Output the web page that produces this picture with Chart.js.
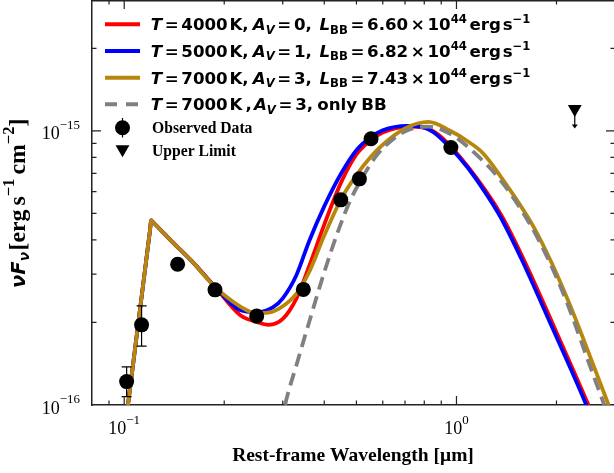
<!DOCTYPE html>
<html><head><meta charset="utf-8">
<script src="https://cdn.jsdelivr.net/npm/chart.js@4.4.0/dist/chart.umd.min.js"></script>
<style>html,body{margin:0;padding:0;background:#fff;overflow:hidden}#wrap{width:614px;height:473px;overflow:hidden;position:relative}canvas{display:block}</style>
</head><body><div id="wrap"><canvas id="c" width="615" height="473"></canvas></div>
<script>
// ---- data (wavelength in micron, nuF_nu in erg s^-1 cm^-2) ----
const redX  = [0.100,0.1195,0.1206,0.1215,0.140,0.160,0.188,0.2231,0.25,0.272,0.30,0.33,0.36,0.40,0.45,0.50,0.55,0.60,0.72,0.79,0.865,0.971,1.224,1.374,1.598,1.944,2.496,2.65];
const redY  = [7.8e-17,4.31e-16,4.71e-16,4.67e-16,3.92e-16,3.34e-16,2.69e-16,2.13e-16,2.01e-16,1.96e-16,2.06e-16,2.45e-16,3.2e-16,4.55e-16,6.5e-16,8.2e-16,9.2e-16,9.85e-16,1.037e-15,1.03e-15,9.85e-16,8.65e-16,6.05e-16,4.85e-16,3.37e-16,1.99e-16,1.0e-16,8.4e-17];
const blueX = [0.100,0.1195,0.1206,0.1215,0.140,0.160,0.188,0.2231,0.25,0.28,0.30,0.33,0.36,0.40,0.45,0.50,0.55,0.60,0.71,0.78,0.85,0.957,1.08,1.206,1.354,1.574,1.915,2.459,2.6];
const blueY = [7.8e-17,4.31e-16,4.71e-16,4.67e-16,3.92e-16,3.34e-16,2.69e-16,2.22e-16,2.18e-16,2.27e-16,2.45e-16,2.98e-16,3.95e-16,5.3e-16,7.0e-16,8.5e-16,9.45e-16,1.005e-15,1.043e-15,1.035e-15,9.9e-16,8.69e-16,7.35e-16,6.09e-16,4.87e-16,3.38e-16,1.99e-16,1.0e-16,8.4e-17];
const goldX = [0.100,0.1195,0.1206,0.1215,0.140,0.160,0.188,0.2231,0.25,0.28,0.30,0.33,0.36,0.40,0.45,0.50,0.55,0.60,0.70,0.824,0.957,1.075,1.2,1.354,1.70,1.938,2.20,2.5,2.87,3.05];
const goldY = [7.8e-17,4.31e-16,4.71e-16,4.67e-16,3.92e-16,3.34e-16,2.69e-16,2.29e-16,2.16e-16,2.19e-16,2.29e-16,2.55e-16,3.05e-16,4.15e-16,5.65e-16,6.9e-16,8.0e-16,8.9e-16,1.02e-15,1.078e-15,1.0e-15,9.2e-16,8.3e-16,6.85e-16,4.5e-16,3.28e-16,2.3e-16,1.55e-16,1.0e-16,8.2e-17];
const grayX = [0.29,0.305,0.33,0.36,0.40,0.44,0.48,0.53,0.576,0.65,0.72,0.82,0.95,1.075,1.354,1.667,1.893,2.14,2.5,2.786,3.0];
const grayY = [7.2e-17,1.0e-16,1.40e-16,2.0e-16,3.05e-16,4.3e-16,5.6e-16,7.0e-16,8.15e-16,9.4e-16,1.01e-15,1.036e-15,9.8e-16,8.8e-16,6.62e-16,4.55e-16,3.38e-16,2.4e-16,1.43e-16,1.0e-16,7.8e-17];

const obsX   = [0.1017,0.1128,0.1448,0.1876,0.2505,0.3461,0.4486,0.5104,0.5533,0.9619];
const obsY   = [1.217e-16,1.96e-16,3.26e-16,2.63e-16,2.11e-16,2.64e-16,5.60e-16,6.68e-16,9.35e-16,8.69e-16];
const obsLo  = [1.072e-16,1.64e-16,null,null,null,null,null,null,null,null];
const obsHi  = [1.377e-16,2.30e-16,null,null,null,null,null,null,null,null];
const ulX    = [2.27];
const ulY    = [1.2e-15];
const ulEnd  = [1.02e-15];

const legendT  = [4000,5000,7000,7000];
const legendAv = [0,1,3,3];
const legendL  = ['6.60','6.82','7.43',null];

const xMajor = [0.1,1];
const xMinor = [0.09,0.2,0.3,0.4,0.5,0.6,0.7,0.8,0.9,2];
const yMajor = [1e-16,1e-15];
const yMinor = [2e-16,3e-16,4e-16,5e-16,6e-16,7e-16,8e-16,9e-16,2e-15];
const xTickExp = ['\u22121','0'];
const yTickExp = ['\u221216','\u221215'];

const RED='#ff0000', BLUE='#0000ff', GOLD='#b8860b', GRAY='#808080';
const Sans="'DejaVu Sans'", Serif="'Liberation Serif'";

const pts = (xs,ys)=>xs.map((x,i)=>({x:x,y:ys[i]}));
function curve(xs,ys,color,order,dash){
  return {data:pts(xs,ys),showLine:true,borderColor:color,borderWidth:3.8,pointRadius:0,
    fill:false,cubicInterpolationMode:'monotone',borderDash:dash||[],order:order,clip:0};
}

function fontStr(s,size){return (s.it?'italic ':'')+(s.b?'bold ':'')+size.toFixed(2)+'px '+s.fam;}
function richWidth(ctx,segs,size){let w=0;for(const s of segs){w+=(s.g||0)*size;ctx.font=fontStr(s,size*(s.sc||1));w+=ctx.measureText(s.t).width;}return w;}
function drawRich(ctx,x,y,segs,size){let cx=x;for(const s of segs){cx+=(s.g||0)*size;ctx.font=fontStr(s,size*(s.sc||1));ctx.fillText(s.t,cx,y+(s.dy||0)*size);cx+=ctx.measureText(s.t).width;}return cx;}

function curveLabel(i){
  const b={b:1,fam:Sans}, bi={b:1,it:1,fam:Sans};
  const s=[{...bi,t:'T'},{...b,t:'=',g:.16},{...b,t:String(legendT[i]),g:.16}];
  if(legendL[i]){
    s.push({...b,t:'K,',g:.1},{...bi,t:'A',g:.25},{...bi,t:'V',sc:.7,dy:.2},{...b,t:'=',g:.16},{...b,t:legendAv[i]+',',g:.16},
      {...bi,t:'L',g:.45},{...b,t:'BB',sc:.7,dy:.2},{...b,t:'=',g:.16},{...b,t:legendL[i],g:.16},{...b,t:'\u00d7',g:.16},
      {...b,t:'10',g:.16},{...b,t:'44',sc:.7,dy:-.42},{...b,t:'erg',g:.16},{...b,t:'s',g:.1},{...b,t:'\u22121',sc:.7,dy:-.42});
  } else {
    s.push({...b,t:'K',g:.1},{...b,t:',',g:.2},{...bi,t:'A',g:.12},{...bi,t:'V',sc:.7,dy:.2},{...b,t:'=',g:.16},{...b,t:legendAv[i]+',',g:.16},
      {...b,t:'only',g:.25},{...b,t:'BB',g:.25});
  }
  return s;
}

const decor={
  id:'decor',
  afterDatasetsDraw(chart){
    const ctx=chart.ctx, xs=chart.scales.x, ys=chart.scales.y;
    ctx.save();ctx.strokeStyle='#000';ctx.fillStyle='#000';ctx.lineWidth=1.2;
    obsX.forEach((v,i)=>{
      if(obsLo[i]==null)return;
      const px=xs.getPixelForValue(v), p1=ys.getPixelForValue(obsLo[i]), p2=ys.getPixelForValue(obsHi[i]);
      ctx.beginPath();ctx.moveTo(px,p1);ctx.lineTo(px,p2);
      ctx.moveTo(px-5,p1);ctx.lineTo(px+5,p1);ctx.moveTo(px-5,p2);ctx.lineTo(px+5,p2);ctx.stroke();
    });
    ulX.forEach((v,i)=>{
      const px=xs.getPixelForValue(v), p1=ys.getPixelForValue(ulY[i]), p2=ys.getPixelForValue(ulEnd[i]);
      ctx.beginPath();ctx.moveTo(px,p1);ctx.lineTo(px,p2-3);ctx.stroke();
      ctx.beginPath();ctx.moveTo(px-3,p2-4);ctx.lineTo(px+3,p2-4);ctx.lineTo(px,p2);ctx.closePath();ctx.fill();
    });
    ctx.restore();
  },
  afterDraw(chart){
    const ctx=chart.ctx, a=chart.chartArea, xs=chart.scales.x, ys=chart.scales.y;
    ctx.save();
    ctx.strokeStyle='#222';ctx.lineWidth=1.5;
    ctx.beginPath();ctx.moveTo(a.left,a.top+0.75);ctx.lineTo(a.right,a.top+0.75);ctx.stroke();
    ctx.lineWidth=1.2;
    const tick=(vals,len)=>{
      vals.forEach(v=>{const px=xs.getPixelForValue(v);if(px<=a.left+1||px>=a.right-1)return;
        ctx.beginPath();ctx.moveTo(px,a.bottom);ctx.lineTo(px,a.bottom-len);ctx.moveTo(px,a.top);ctx.lineTo(px,a.top+len);ctx.stroke();});
    };
    const ytick=(vals,len)=>{
      vals.forEach(v=>{const py=ys.getPixelForValue(v);if(py<=a.top+1||py>=a.bottom-1)return;
        ctx.beginPath();ctx.moveTo(a.left,py);ctx.lineTo(a.left+len,py);ctx.moveTo(a.right,py);ctx.lineTo(a.right-len,py);ctx.stroke();});
    };
    tick(xMajor,9);tick(xMinor,4.5);ytick(yMajor,9);ytick(yMinor,4.5);
    // tick labels
    ctx.fillStyle='#000';ctx.textBaseline='alphabetic';
    xMajor.forEach((v,i)=>{
      const px=xs.getPixelForValue(v);
      const segs=[{t:'10',fam:Serif},{t:xTickExp[i],fam:Serif,sc:.72,dy:-.55}];
      const w=richWidth(ctx,segs,18);drawRich(ctx,px-w/2,a.bottom+29,segs,18);
    });
    yMajor.forEach((v,i)=>{
      const py=ys.getPixelForValue(v);
      const segs=[{t:'10',fam:Serif},{t:yTickExp[i],fam:Serif,sc:.72,dy:-.6}];
      const w=richWidth(ctx,segs,18);drawRich(ctx,80-w,py+8.5,segs,18);
    });
    // x title
    ctx.font='bold 19.5px '+Serif;ctx.textAlign='center';
    ctx.fillText('Rest-frame Wavelength [\u03bcm]',(a.left+a.right-1)/2,461);
    ctx.textAlign='left';
    // y title
    ctx.save();ctx.translate(25,(a.top+a.bottom)/2);ctx.rotate(-Math.PI/2);
    const ySegA=[{t:'\u03bd',b:1,it:1,fam:Sans},{t:'F',b:1,it:1,fam:Sans},{t:'\u03bd',b:1,it:1,fam:Sans,sc:.7,dy:.22}];
    const ySegB=[{t:'[erg',b:1,fam:Serif},{t:'s',b:1,fam:Serif,g:.17},{t:'\u22121',b:1,fam:Serif,sc:.7,dy:-.45},{t:'cm',b:1,fam:Serif,g:.17},{t:'\u22122',b:1,fam:Serif,sc:.7,dy:-.45},{t:']',b:1,fam:Serif}];
    const sa=20*36/richWidth(ctx,ySegA,20);
    const sb=20*132/richWidth(ctx,ySegB,20);
    drawRich(ctx,-85.5,0,ySegA,sa);
    drawRich(ctx,-48,0,ySegB,sb);
    ctx.restore();
    // legend
    const rows=[[RED,[]],[BLUE,[]],[GOLD,[]],[GRAY,[12,9]]];
    const rowY=[24.3,51,77.7,104.3];
    const s0=16*380/richWidth(ctx,curveLabel(0),16);
    rows.forEach((r,i)=>{
      ctx.strokeStyle=r[0];ctx.lineWidth=4;ctx.setLineDash(r[1]);
      ctx.beginPath();ctx.moveTo(105,rowY[i]);ctx.lineTo(140,rowY[i]);ctx.stroke();ctx.setLineDash([]);
      ctx.fillStyle='#000';drawRich(ctx,150.7,rowY[i]+0.36*s0,curveLabel(i),s0);
    });
    ctx.fillStyle='#000';
    ctx.beginPath();ctx.arc(122.5,127.7,7.5,0,Math.PI*2);ctx.fill();
    ctx.strokeStyle='#000';ctx.lineWidth=1.2;ctx.beginPath();ctx.moveTo(122.5,118);ctx.lineTo(122.5,137.5);ctx.stroke();
    const tr=8, tx=122.5, ty=149.2;
    ctx.beginPath();ctx.moveTo(tx-tr*0.866,ty-tr/2);ctx.lineTo(tx+tr*0.866,ty-tr/2);ctx.lineTo(tx,ty+tr);ctx.closePath();ctx.fill();
    const ls=15*100.5/richWidth(ctx,[{t:'Observed Data',b:1,fam:Serif}],15);
    ctx.font='bold '+ls.toFixed(2)+'px '+Serif;
    ctx.fillText('Observed Data',152,133.2);
    ctx.fillText('Upper Limit',152,156.2);
    ctx.restore();
  }
};

new Chart(document.getElementById('c'),{
  type:'scatter',
  data:{datasets:[
    {data:pts(obsX,obsY),pointRadius:7.5,pointHoverRadius:7.5,backgroundColor:'#000',borderColor:'#000',borderWidth:0,order:0,clip:false},
    {data:pts(ulX,ulY),pointStyle:'triangle',pointRotation:180,pointRadius:8,backgroundColor:'#000',borderColor:'#000',borderWidth:0,order:0,clip:false},
    curve(grayX,grayY,GRAY,1,[13,7]),
    curve(goldX,goldY,GOLD,2),
    curve(blueX,blueY,BLUE,3),
    curve(redX,redY,RED,4)
  ]},
  options:{
    responsive:false,animation:false,devicePixelRatio:1,
    layout:{padding:0,autoPadding:false},
    plugins:{legend:{display:false},tooltip:{enabled:false}},
    events:[],
    scales:{
      x:{type:'logarithmic',min:0.08,max:3,position:'bottom',grid:{display:false},
         border:{display:true,color:'#222',width:1.5},ticks:{display:false},
         afterFit(s){s.height=68;}},
      y:{type:'logarithmic',min:1e-16,max:3e-15,position:'left',grid:{display:false},
         border:{display:true,color:'#222',width:1.5},ticks:{display:false},
         afterFit(s){s.width=92;}}
    }
  },
  plugins:[decor]
});
</script></body></html>
